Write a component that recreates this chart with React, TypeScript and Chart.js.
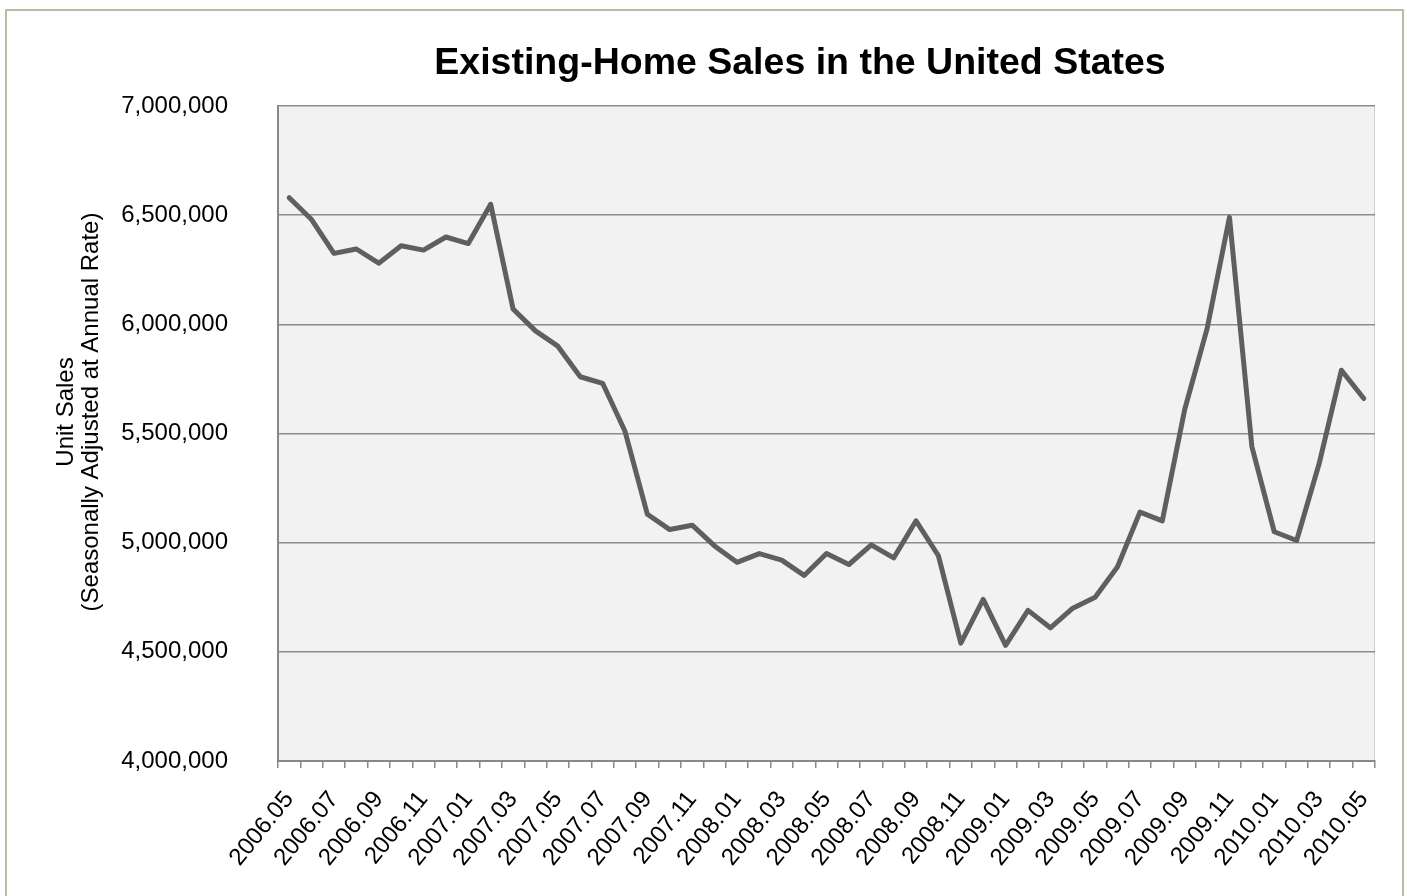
import React, { useEffect, useRef } from 'react';
import { Chart, registerables } from 'chart.js';

Chart.register(...registerables);

const chartTitle = 'Existing-Home Sales in the United States';
const yTitleLines = ['Unit Sales', '(Seasonally Adjusted at Annual Rate)'];

const months = [
  '2006.05', '2006.06', '2006.07', '2006.08', '2006.09', '2006.10', '2006.11', '2006.12',
  '2007.01', '2007.02', '2007.03', '2007.04', '2007.05', '2007.06', '2007.07', '2007.08',
  '2007.09', '2007.10', '2007.11', '2007.12',
  '2008.01', '2008.02', '2008.03', '2008.04', '2008.05', '2008.06', '2008.07', '2008.08',
  '2008.09', '2008.10', '2008.11', '2008.12',
  '2009.01', '2009.02', '2009.03', '2009.04', '2009.05', '2009.06', '2009.07', '2009.08',
  '2009.09', '2009.10', '2009.11', '2009.12',
  '2010.01', '2010.02', '2010.03', '2010.04', '2010.05',
];

const unitSales = [
  6580000, 6480000, 6325000, 6345000, 6280000, 6360000, 6340000, 6400000,
  6370000, 6550000, 6070000, 5970000, 5900000, 5760000, 5730000, 5510000,
  5130000, 5060000, 5080000, 4985000,
  4910000, 4950000, 4920000, 4850000, 4950000, 4900000, 4990000, 4930000,
  5100000, 4940000, 4540000, 4740000,
  4530000, 4690000, 4610000, 4700000, 4750000, 4890000, 5140000, 5100000,
  5610000, 5980000, 6490000, 5440000,
  5050000, 5010000, 5360000, 5790000, 5660000,
];

const yMin = 4000000;
const yMax = 7000000;
const yStep = 500000;

const FONT = '"Liberation Sans", Arial, sans-serif';

const decorPlugin = {
  id: 'decor',
  beforeDraw(chart: any) {
    const { ctx, chartArea } = chart;
    const { left, top, right, bottom } = chartArea;
    ctx.save();
    ctx.fillStyle = '#ffffff';
    ctx.fillRect(0, 0, chart.width, chart.height);
    ctx.strokeStyle = '#BFB8A2';
    ctx.lineWidth = 2;
    ctx.strokeRect(6, 10, 1397, 900);
    ctx.fillStyle = '#F2F2F2';
    ctx.fillRect(left, top, right - left, bottom - top);
    ctx.strokeStyle = '#D0D0D0';
    ctx.lineWidth = 1;
    ctx.beginPath();
    ctx.moveTo(right - 0.5, top);
    ctx.lineTo(right - 0.5, bottom);
    ctx.stroke();

    ctx.fillStyle = '#000000';
    ctx.font = `bold 37.5px ${FONT}`;
    ctx.textAlign = 'center';
    ctx.textBaseline = 'alphabetic';
    ctx.fillText(chartTitle, 800, 74);

    ctx.font = `24px ${FONT}`;
    const cy = 412;
    const baselines = [73, 98];
    yTitleLines.forEach((line, i) => {
      ctx.save();
      ctx.translate(baselines[i], cy);
      ctx.rotate(-Math.PI / 2);
      ctx.textAlign = 'center';
      ctx.textBaseline = 'alphabetic';
      ctx.fillText(line, 0, 0);
      ctx.restore();
    });
    ctx.restore();
  },
};

export default function App() {
  const canvasRef = useRef<HTMLCanvasElement | null>(null);

  useEffect(() => {
    const canvas = canvasRef.current;
    if (!canvas) return;
    const chart = new Chart(canvas, {
      type: 'line',
      data: {
        labels: months,
        datasets: [
          {
            label: 'Unit Sales',
            data: unitSales,
            borderColor: '#5F5F5F',
            borderWidth: 5,
            borderCapStyle: 'round',
            borderJoinStyle: 'round',
            pointRadius: 0,
            tension: 0,
            fill: false,
          },
        ],
      },
      options: {
        responsive: false,
        animation: false,
        layout: { padding: { left: 0, right: 32, top: 106, bottom: 0 } },
        plugins: {
          legend: { display: false },
          title: { display: false },
          tooltip: { enabled: false },
        },
        scales: {
          x: {
            type: 'category',
            offset: true,
            grid: {
              offset: true,
              drawOnChartArea: false,
              drawTicks: true,
              tickLength: 7,
              tickColor: '#888888',
              lineWidth: 1.5,
            },
            border: { display: true, color: '#888888', width: 2 },
            ticks: {
              autoSkip: false,
              maxRotation: 51,
              minRotation: 51,
              padding: 18,
              color: '#000000',
              font: { family: FONT, size: 24 },
              callback: (_v: any, i: number) => (i % 2 === 0 ? months[i] : ''),
            },
            afterFit: (s: any) => {
              s.height = 135;
            },
          },
          y: {
            min: yMin,
            max: yMax,
            ticks: {
              stepSize: yStep,
              padding: 50,
              color: '#000000',
              font: { family: FONT, size: 24 },
              callback: (v: any) => Number(v).toLocaleString('en-US'),
            },
            grid: { color: '#8C8C8C', lineWidth: 1.5, drawTicks: false },
            border: { display: true, color: '#888888', width: 2 },
            afterFit: (s: any) => {
              s.width = 278;
            },
          },
        },
      },
      plugins: [decorPlugin],
    } as any);
    return () => chart.destroy();
  }, []);

  return (
    <div style={{ position: 'absolute', left: 0, top: 0, width: 1407, height: 896 }}>
      <canvas ref={canvasRef} width={1407} height={896} style={{ display: 'block' }} />
    </div>
  );
}
